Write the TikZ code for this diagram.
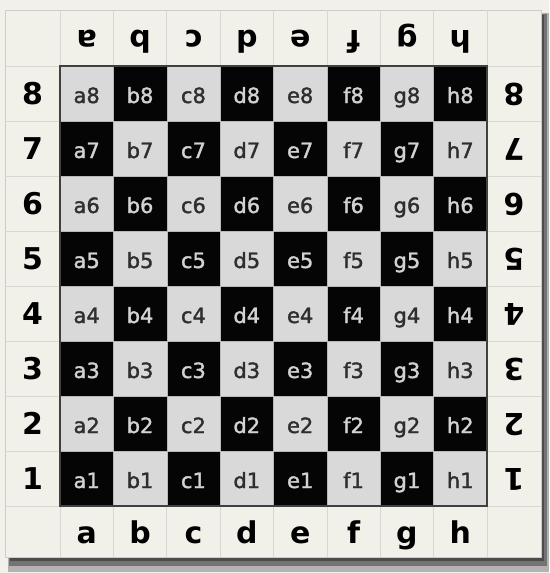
\documentclass[tikz,border=0pt]{standalone}
\usepackage{fontspec}
\newfontfamily\boardfont{DejaVu Sans}
\newfontfamily\sqfont[FakeBold=1.6]{DejaVu Sans}
\definecolor{bg}{HTML}{F2F1E9}
\definecolor{lightc}{HTML}{D9D9D9}
\definecolor{darkc}{HTML}{050505}
\definecolor{lighttext}{HTML}{2E2E2E}
\definecolor{darktext}{HTML}{D2D2D2}
\definecolor{gridc}{HTML}{D8D8D2}
\tikzset{
  sq/.style={minimum width=53.375pt, minimum height=55pt, inner sep=0pt, draw=gray!55, line width=0.4pt,
    text height=19pt, text depth=0pt, font=\sqfont\fontsize{21}{21}\selectfont},
  lightsq/.style={sq, fill=lightc, text=lighttext},
  darksq/.style={sq, fill=darkc, text=darktext},
  coordlbl/.style={inner sep=0pt, anchor=base, text=black, font=\boardfont\bfseries\fontsize{30}{30}\selectfont},
}
\begin{document}
\begin{tikzpicture}[x=1pt,y=-1pt]
\useasboundingbox (0,0) rectangle (549,573);
\fill[bg] (0,0) rectangle (549,573);
% shadow
\fill[black!30] (8,13) rectangle (549,572);
\fill[black!55] (9,14) rectangle (547,566);
\fill[black!70] (10,15) rectangle (544,561);
% frame
\filldraw[fill=bg, draw=gray!40, line width=0.6pt] (5,10) rectangle (541,557);
% grid of label cells
\foreach \k in {0,...,8} {
  \draw[gridc, line width=0.6pt] ({60+53.375*\k},10) -- ({60+53.375*\k},557);
  \draw[gridc, line width=0.6pt] (5,{66+55*\k}) -- (541,{66+55*\k});
}
% squares
\foreach \f [count=\i from 0] in {a,b,c,d,e,f,g,h} {
  \foreach \r in {1,...,8} {
    \pgfmathtruncatemacro\sqdark{mod(\i+\r,2)}
    \ifnum\sqdark=1
      \node[darksq] (\f\r) at ({60+53.375*(\i+0.5)},{66+55*(8.5-\r)}) {\f\r};
    \else
      \node[lightsq] (\f\r) at ({60+53.375*(\i+0.5)},{66+55*(8.5-\r)}) {\f\r};
    \fi
  }
  \node[coordlbl, rotate=180] (top\f) at ({60+53.375*(\i+0.5)},30) {\f};
  \node[coordlbl] (bot\f) at ({60+53.375*(\i+0.5)},543) {\f};
}
\foreach \r in {1,...,8} {
  \node[coordlbl] (left\r) at (32.5,{66+55*(8.5-\r)+10.5}) {\r};
  \node[coordlbl, rotate=180] (right\r) at (514,{66+55*(8.5-\r)-10.5}) {\r};
}
% board border
\draw[black!75, line width=1.2pt] (60,66) rectangle (487,506);
\end{tikzpicture}
\end{document}
